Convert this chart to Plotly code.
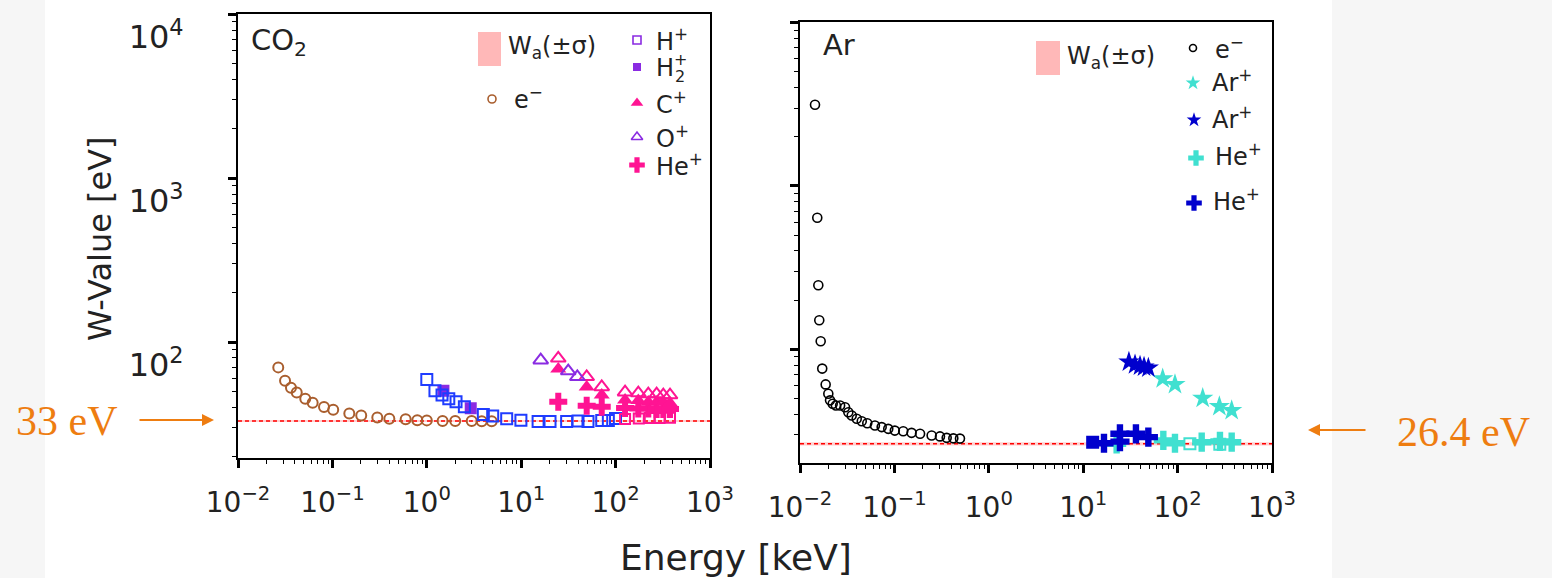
import plotly.graph_objects as go

# ---------------------------------------------------------------- data (keV, eV)
# CO2 panel
co2_e_energy = [0.0267, 0.0315, 0.0364, 0.0419, 0.0516, 0.0618, 0.0815, 0.102, 0.151, 0.202,
                0.299, 0.401, 0.597, 0.793, 1.0, 1.47, 2.0, 2.99, 3.82, 4.87]
co2_e_w = [70.1, 58.1, 52.6, 49.3, 45.1, 42.6, 40.2, 38.7, 36.7, 35.7,
           34.7, 34.1, 33.8, 33.4, 33.3, 33.0, 33.0, 33.0, 32.9, 32.9]

co2_hp_energy = [1.0, 1.22, 1.45, 1.71, 2.04, 2.50, 3.97, 4.99, 7.02, 9.93,
                 15.1, 20.2, 30.3, 40.0, 51.0, 71.3, 83.8, 99.8]
co2_hp_w = [59.2, 50.5, 47.5, 45.1, 43.3, 40.3, 36.2, 35.4, 34.1, 33.4,
            32.8, 32.8, 32.8, 33.0, 32.8, 33.3, 33.3, 34.2]

co2_hp_hi_energy = [126, 176, 230, 292, 377]
co2_hp_hi_w = [34.0, 34.2, 34.4, 34.4, 34.6]

co2_h2p_energy = [1.50, 2.92]
co2_h2p_w = [50.5, 39.5]

co2_op_energy = [16.1, 31.5, 39.3]
co2_op_w = [77.6, 66.6, 61.4]

co2_heavy_energy = [24.7, 49.4, 71.3, 126, 174, 222, 272, 320, 377]
co2_cp_open_w = [79.6, 61.4, 53.3, 49.5, 48.9, 48.2, 48.2, 47.5, 47.5]
co2_cp_w = [68.5, 53.3, 47.6, 44.3, 44.0, 43.1, 43.1, 43.1, 42.5]
co2_hep_w = [43.3, 40.9, 40.3, 39.6, 39.3, 39.3, 39.1, 39.1, 39.1]

co2_wa, co2_wa_sigma = 33.0, 0.5

# Ar panel
ar_e_energy = [0.01442, 0.01524, 0.01563, 0.0160, 0.01656, 0.0172, 0.0187, 0.01995, 0.0208,
               0.0222, 0.0240, 0.0266, 0.0300, 0.0325, 0.0353, 0.0399, 0.0451, 0.0516,
               0.0622, 0.0733, 0.0861, 0.101, 0.124, 0.152, 0.187, 0.248, 0.304, 0.358,
               0.421, 0.495]
ar_e_w = [3140, 639, 247, 150.6, 112, 76.2, 61, 53.5, 48.7,
          46.4, 45.3, 45.3, 44.2, 41.2, 39.3, 37.6, 36.3, 35.3,
          34.2, 33.4, 32.6, 31.8, 31.5, 30.8, 30.4, 29.7, 29.3, 28.7,
          28.5, 28.4]

ar_arp_b_energy = [30.5, 35.4, 40.0, 44.1, 49.0]
ar_arp_b_w = [83.6, 80.5, 79.0, 77.9, 76.8]

ar_arp_c_energy = [69.5, 93.8, 184.5, 277, 374]
ar_arp_c_w = [66.1, 61.0, 50.2, 44.7, 42.3]

ar_hep_b_energy = [16.6, 24.5, 24.5, 36.2, 49.0]
ar_hep_b_w = [26.6, 30.4, 27.2, 30.4, 29.0]

ar_hep_c_energy = [22.6, 70.6, 93.8, 180, 281, 374]
ar_hep_c_w = [26.4, 27.7, 26.6, 27.0, 27.3, 27.0]

ar_sq_b_energy = [12.6]
ar_sq_b_w = [27.0]

ar_sq_c_energy = [135, 280]
ar_sq_c_w = [26.4, 26.2]

ar_wa, ar_wa_sigma = 26.4, 0.6

x_tick_vals = [0.01, 0.1, 1, 10, 100, 1000]
x_tick_text = ["10<sup>−2</sup>", "10<sup>−1</sup>", "10<sup>0</sup>",
               "10<sup>1</sup>", "10<sup>2</sup>", "10<sup>3</sup>"]
y_tick_vals = [100, 1000, 10000]
y_tick_text = ["10<sup>2</sup>", "10<sup>3</sup>", "10<sup>4</sup>"]

# ---------------------------------------------------------------- styling
W, H = 1552, 578
FONT = "DejaVu Sans"
TXT = "#222"
BROWN = "#a95e2e"
BLUE = "#1f3cff"
VIOLET = "#8a2be2"
PINK = "#ff1493"
CYAN = "#40e0d0"
NAVY = "#0000cd"
BAND = "#ffb8b8"
ORANGE = "#ee7d11"


def px(x):
    return x / W


def py(y):
    return 1 - y / H


fig = go.Figure()


def pts(xs, ys, ax, symbol, color, size, lw=2.0):
    fig.add_trace(go.Scatter(
        x=xs, y=ys, mode="markers", showlegend=False, hoverinfo="skip",
        xaxis=ax[0], yaxis=ax[1],
        marker=dict(symbol=symbol, color=color, size=size,
                    line=dict(color=color, width=lw)),
    ))


def wa_band(ax, w, s):
    xs = [0.01, 1000]
    fig.add_trace(go.Scatter(x=xs, y=[w - s] * 2, mode="lines", line=dict(width=0),
                             showlegend=False, xaxis=ax[0], yaxis=ax[1]))
    fig.add_trace(go.Scatter(x=xs, y=[w + s] * 2, mode="lines", line=dict(width=0),
                             fill="tonexty", fillcolor="rgba(255,150,150,0.45)",
                             showlegend=False, xaxis=ax[0], yaxis=ax[1]))
    fig.add_trace(go.Scatter(x=xs, y=[w] * 2, mode="lines",
                             line=dict(color="red", width=1.6, dash="4px,3px"),
                             showlegend=False, xaxis=ax[0], yaxis=ax[1]))


L = ("x", "y")
R = ("x2", "y2")

# CO2 panel
wa_band(L, co2_wa, co2_wa_sigma)
pts(co2_e_energy, co2_e_w, L, "circle-open", BROWN, 10)
pts(co2_h2p_energy, co2_h2p_w, L, "square", VIOLET, 10)
pts(co2_hp_energy, co2_hp_w, L, "square-open", BLUE, 11)
pts(co2_hp_hi_energy, co2_hp_hi_w, L, "square-open", PINK, 10)
pts(co2_heavy_energy, co2_hep_w, L, "cross", PINK, 15, lw=0)
pts(co2_heavy_energy, co2_cp_w, L, "triangle-up", PINK, 14, lw=0)
pts(co2_heavy_energy, co2_cp_open_w, L, "triangle-up-open", PINK, 13)
pts(co2_op_energy, co2_op_w, L, "triangle-up-open", VIOLET, 13)

# Ar panel
wa_band(R, ar_wa, ar_wa_sigma)
pts(ar_e_energy, ar_e_w, R, "circle-open", "black", 9, lw=1.6)
pts(ar_sq_b_energy, ar_sq_b_w, R, "square", NAVY, 11)
pts(ar_sq_c_energy, ar_sq_c_w, R, "square-open", CYAN, 11)
pts(ar_hep_c_energy, ar_hep_c_w, R, "cross", CYAN, 16, lw=0)
pts(ar_hep_b_energy, ar_hep_b_w, R, "cross", NAVY, 16, lw=0)
pts(ar_arp_c_energy, ar_arp_c_w, R, "star", CYAN, 16, lw=0)
pts(ar_arp_b_energy, ar_arp_b_w, R, "star", NAVY, 16, lw=0)

# ---------------------------------------------------------------- legend keys
LEG = ("x3", "y3")
legend_keys = [
    # (x px, y px, symbol, color, size)
    (492, 99, "circle-open", BROWN, 8),
    (637, 40, "square-open", VIOLET, 8),
    (637, 67, "square", VIOLET, 8),
    (637, 103, "triangle-up", PINK, 11),
    (637, 137, "triangle-up-open", VIOLET, 10),
    (637, 165, "cross", PINK, 13),
    (1193, 48, "circle-open", "black", 7),
    (1193, 83, "star", CYAN, 11),
    (1194, 120, "star", NAVY, 11),
    (1196, 158, "cross", CYAN, 13),
    (1194, 203, "cross", NAVY, 13),
]
for kx, ky, sym, col, sz in legend_keys:
    pts([kx], [ky], LEG, sym, col, sz, lw=1.6 if "open" in sym else 0)

legend_text = [
    (512, 98, "e<sup>−</sup>"),
    (654, 40, "H<sup>+</sup>"),
    (654, 103, "C<sup>+</sup>"),
    (654, 137, "O<sup>+</sup>"),
    (654, 165, "He<sup>+</sup>"),
    (1213, 48, "e<sup>−</sup>"),
    (1210, 81, "Ar<sup>+</sup>"),
    (1210, 118, "Ar<sup>+</sup>"),
    (1213, 155, "He<sup>+</sup>"),
    (1211, 200, "He<sup>+</sup>"),
    (506, 48, "W<sub>a</sub>(±σ)"),
    (1065, 58, "W<sub>a</sub>(±σ)"),
]

annotations = []
for tx, ty, t in legend_text:
    annotations.append(dict(x=px(tx), y=py(ty), xref="paper", yref="paper", text=t,
                            showarrow=False, xanchor="left", yanchor="middle",
                            font=dict(family=FONT, size=24, color=TXT)))
# stacked sub/superscript for H2+
annotations += [
    dict(x=px(654), y=py(68), xref="paper", yref="paper", text="H", showarrow=False,
         xanchor="left", yanchor="middle", font=dict(family=FONT, size=24, color=TXT)),
    dict(x=px(672), y=py(59), xref="paper", yref="paper", text="+", showarrow=False,
         xanchor="left", yanchor="middle", font=dict(family=FONT, size=16, color=TXT)),
    dict(x=px(673), y=py(77), xref="paper", yref="paper", text="2", showarrow=False,
         xanchor="left", yanchor="middle", font=dict(family=FONT, size=16, color=TXT)),
]

shapes = [
    dict(type="rect", xref="paper", yref="paper", x0=0, x1=px(45), y0=0, y1=1,
         fillcolor="#f6f6f6", line=dict(width=0), layer="below"),
    dict(type="rect", xref="paper", yref="paper", x0=px(1332), x1=1, y0=0, y1=1,
         fillcolor="#f6f6f6", line=dict(width=0), layer="below"),
    dict(type="rect", xref="paper", yref="paper", x0=px(478), x1=px(501),
         y0=py(66), y1=py(32), fillcolor=BAND, line=dict(width=0)),
    dict(type="rect", xref="paper", yref="paper", x0=px(1036), x1=px(1060),
         y0=py(75), y1=py(41), fillcolor=BAND, line=dict(width=0)),
]

# panel labels, axis titles and reference-value callouts
annotations += [
    dict(x=px(249), y=py(42), xref="paper", yref="paper", text="CO<sub>2</sub>",
         showarrow=False, xanchor="left", yanchor="middle",
         font=dict(family=FONT, size=29, color=TXT)),
    dict(x=px(821), y=py(45), xref="paper", yref="paper", text="Ar",
         showarrow=False, xanchor="left", yanchor="middle",
         font=dict(family=FONT, size=29, color=TXT)),
    dict(x=px(100), y=py(238), xref="paper", yref="paper", text="W-Value [eV]",
         showarrow=False, textangle=-90, xanchor="center", yanchor="middle",
         font=dict(family=FONT, size=32, color=TXT)),
    dict(x=px(736), y=py(557), xref="paper", yref="paper", text="Energy [keV]",
         showarrow=False, xanchor="center", yanchor="middle",
         font=dict(family=FONT, size=36, color=TXT)),
    dict(x=px(66), y=py(421), xref="paper", yref="paper", text="33 eV",
         showarrow=False, xanchor="center", yanchor="middle",
         font=dict(family="Liberation Serif", size=42, color=ORANGE)),
    dict(x=px(214), y=py(420), xref="paper", yref="paper", text="", showarrow=True,
         ax=-76, ay=0, arrowhead=2, arrowsize=1.2, arrowwidth=2, arrowcolor=ORANGE),
    dict(x=px(1463), y=py(432), xref="paper", yref="paper", text="26.4 eV",
         showarrow=False, xanchor="center", yanchor="middle",
         font=dict(family="Liberation Serif", size=42, color=ORANGE)),
    dict(x=px(1308), y=py(430), xref="paper", yref="paper", text="", showarrow=True,
         ax=59, ay=0, arrowhead=2, arrowsize=1.2, arrowwidth=2, arrowcolor=ORANGE),
]

axis_common = dict(
    type="log", showline=True, linecolor="black", linewidth=2, mirror=True,
    ticks="outside", ticklen=8, tickwidth=2.5, tickcolor="black",
    showgrid=False, zeroline=False, fixedrange=True, automargin=False,
    minor=dict(ticks="outside", ticklen=4, tickwidth=1.2, tickcolor="black",
               showgrid=False, dtick="D1"),
)
x_common = dict(axis_common, range=[-2, 3], tickmode="array", tickvals=x_tick_vals,
                ticktext=x_tick_text, ticklabelstandoff=10,
                tickfont=dict(family=FONT, size=28, color=TXT))
hidden = dict(visible=False, fixedrange=True, automargin=False, showgrid=False,
              zeroline=False, domain=[0, 1])

fig.update_layout(
    template="none",
    width=W, height=H, margin=dict(l=0, r=0, t=0, b=0, pad=0, autoexpand=False),
    paper_bgcolor="white", plot_bgcolor="rgba(0,0,0,0)",
    font=dict(family=FONT, color=TXT),
    showlegend=False, shapes=shapes, annotations=annotations,
    xaxis=dict(x_common, domain=[px(238), px(710)], anchor="y"),
    yaxis=dict(axis_common, domain=[py(458), py(14)], anchor="x", range=[1.293, 4.001],
               tickmode="array", tickvals=y_tick_vals, ticktext=y_tick_text,
               ticklabelstandoff=38, ticklabelshift=23,
               tickfont=dict(family=FONT, size=32, color=TXT)),
    xaxis2=dict(x_common, domain=[px(800), px(1272)], anchor="y2"),
    yaxis2=dict(axis_common, domain=[py(463), py(22)], anchor="x2", range=[1.304, 4.004],
                tickmode="array", tickvals=y_tick_vals, showticklabels=False),
    xaxis3=dict(hidden, range=[0, W], anchor="y3"),
    yaxis3=dict(hidden, range=[H, 0], anchor="x3"),
)

fig.write_html("out.html")
